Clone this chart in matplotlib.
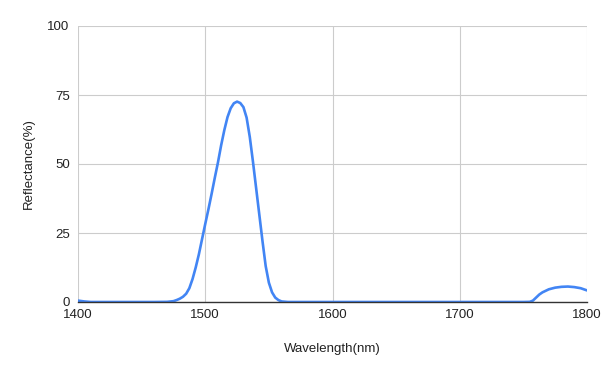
import matplotlib.pyplot as plt

# values
wavelength = [1400, 1405, 1410, 1420, 1440, 1460, 1470, 1475, 1477.5, 1480,
              1482.5, 1485, 1487.5, 1490, 1492.5, 1495, 1497.5, 1500, 1502.5, 1505,
              1507.5, 1510, 1512.5, 1515, 1517.5, 1520, 1522.5, 1525, 1527.5, 1530,
              1532.5, 1535, 1537.5, 1540, 1542.5, 1545, 1547.5, 1550, 1552.5, 1555,
              1557.5, 1560, 1565, 1600, 1650, 1700, 1750, 1755, 1757.5, 1760,
              1762.5, 1765, 1770, 1775, 1780, 1785, 1790, 1795, 1800]
reflectance = [0.5, 0.2, 0.0, 0.0, 0.0, 0.0, 0.05, 0.3, 0.7, 1.2,
               1.9, 3.0, 5.0, 8.3, 12.5, 17.3, 22.8, 28.3, 33.6, 39.2,
               45.0, 50.6, 56.8, 62.3, 67.0, 70.2, 72.0, 72.6, 72.1, 70.6,
               66.8, 59.8, 50.8, 41.2, 31.6, 22.0, 13.0, 7.0, 3.5, 1.6,
               0.7, 0.2, 0.0, 0.0, 0.0, 0.0, 0.0, 0.05, 0.5, 1.6,
               2.7, 3.5, 4.6, 5.2, 5.5, 5.6, 5.4, 5.0, 4.2]

x_ticks = [1400, 1500, 1600, 1700, 1800]
y_ticks = [0, 25, 50, 75, 100]

plt.rcParams['font.family'] = ['Liberation Sans', 'DejaVu Sans']

fig = plt.figure(figsize=(6.05, 3.74), dpi=100)
ax = fig.add_axes([78 / 605, 1 - 302 / 374, 509 / 605, 276 / 374])

ax.plot(wavelength, reflectance, color='#4285F4', linewidth=1.9,
        solid_capstyle='round', solid_joinstyle='round')

ax.set_xlim(1400, 1800)
ax.set_ylim(0, 100)
ax.set_xticks(x_ticks)
ax.set_yticks(y_ticks)
ax.grid(True, color='#cccccc', linewidth=0.8)
ax.set_axisbelow(True)

for side in ['left', 'right', 'top']:
    ax.spines[side].set_visible(False)
ax.spines['bottom'].set_color('#333333')
ax.spines['bottom'].set_linewidth(1)
ax.spines['bottom'].set_zorder(3)

ax.tick_params(axis='both', length=0, labelsize=9.5, colors='#222222')
ax.tick_params(axis='y', pad=6)
ax.tick_params(axis='x', pad=5)

ax.set_xlabel('Wavelength(nm)', fontsize=9.5, color='#222222', labelpad=16)
ax.set_ylabel('Reflectance(%)', fontsize=9.5, color='#222222', labelpad=9)

fig.savefig('out.png', dpi=100)
